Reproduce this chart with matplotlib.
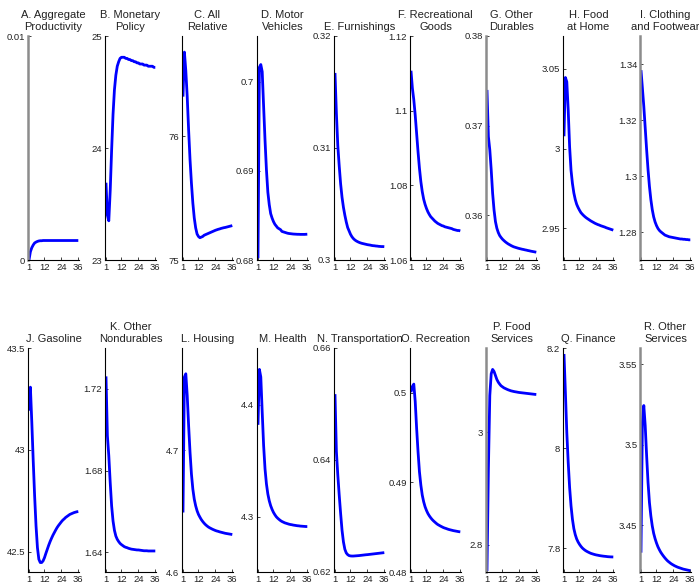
import numpy as np
import matplotlib
matplotlib.use("Agg")
import matplotlib.pyplot as plt
from matplotlib.ticker import FuncFormatter

plt.rcParams["font.family"] = ["Liberation Sans", "DejaVu Sans"]

months = np.arange(1, 37)

# --- series (levels) ---
prod = [0, 0.00037, 0.00055, 0.00067, 0.00076, 0.00080, 0.00083, 0.00085, 0.00086, 0.00086,
        0.00087, 0.00087, 0.00087, 0.00087, 0.00087, 0.00087, 0.00087, 0.00087, 0.00087, 0.00087,
        0.00087, 0.00087, 0.00087, 0.00087, 0.00087, 0.00087, 0.00087, 0.00087, 0.00087, 0.00087,
        0.00087, 0.00087, 0.00087, 0.00087, 0.00087, 0.00087]
monpol = [23.69, 23.40, 23.35, 23.62, 23.98, 24.30, 24.52, 24.65, 24.73, 24.77,
          24.80, 24.81, 24.81, 24.81, 24.80, 24.80, 24.79, 24.79, 24.78, 24.78,
          24.77, 24.77, 24.76, 24.76, 24.75, 24.75, 24.75, 24.74, 24.74, 24.74,
          24.73, 24.73, 24.73, 24.73, 24.72, 24.72]
allrel = [76.32, 76.68, 76.53, 76.32, 76.05, 75.81, 75.62, 75.46, 75.34, 75.26,
          75.21, 75.19, 75.18, 75.185, 75.19, 75.20, 75.205, 75.21, 75.215, 75.22,
          75.225, 75.23, 75.235, 75.24, 75.244, 75.248, 75.251, 75.255, 75.258, 75.261,
          75.263, 75.266, 75.269, 75.272, 75.275, 75.278]
motor = [0.6802, 0.7016, 0.7019, 0.7011, 0.6972, 0.6934, 0.6901, 0.6876, 0.6862, 0.6852,
         0.6847, 0.6843, 0.6840, 0.6838, 0.6836, 0.6835, 0.6834, 0.6832, 0.68315, 0.6831,
         0.68305, 0.6830, 0.68297, 0.68295, 0.68293, 0.68291, 0.6829, 0.68289, 0.68288, 0.68288,
         0.68287, 0.68287, 0.68287, 0.68287, 0.68288, 0.68289]
furnish = [0.3167, 0.3131, 0.3102, 0.3084, 0.3068, 0.3056, 0.3047, 0.3040, 0.3034, 0.3029,
           0.3026, 0.3023, 0.30208, 0.30192, 0.30180, 0.30171, 0.30164, 0.30158, 0.30153, 0.30149,
           0.30146, 0.30143, 0.30140, 0.30137, 0.30135, 0.30133, 0.30130, 0.30128, 0.30127, 0.30125,
           0.30124, 0.30122, 0.30121, 0.30120, 0.30120, 0.30119]
recgoods = [1.1107, 1.1060, 1.1029, 1.0988, 1.0939, 1.0890, 1.0846, 1.0810, 1.0783, 1.0763,
            1.0749, 1.0738, 1.0729, 1.0722, 1.0716, 1.0712, 1.0708, 1.0704, 1.0701, 1.0698,
            1.0696, 1.0694, 1.0692, 1.0691, 1.0689, 1.0688, 1.0687, 1.0686, 1.0685, 1.0684,
            1.0682, 1.0681, 1.0680, 1.0679, 1.0679, 1.0678]
othdur = [0.37398, 0.36877, 0.36729, 0.36506, 0.36245, 0.36059, 0.35929, 0.35855, 0.35807, 0.35773,
          0.35751, 0.35732, 0.35717, 0.35703, 0.35691, 0.35680, 0.35671, 0.35662, 0.35654, 0.35647,
          0.35642, 0.35637, 0.35632, 0.35628, 0.35624, 0.35620, 0.35617, 0.35613, 0.35610, 0.35606,
          0.35603, 0.35599, 0.35596, 0.35593, 0.35590, 0.35587]
foodhome = [3.0077, 3.0445, 3.0418, 3.0240, 3.0010, 2.9864, 2.9781, 2.9722, 2.9681, 2.9651,
            2.9631, 2.9614, 2.9599, 2.9589, 2.9580, 2.9572, 2.9565, 2.9559, 2.9553, 2.9547,
            2.9542, 2.9537, 2.9532, 2.9528, 2.9524, 2.9521, 2.9517, 2.9514, 2.9511, 2.9508,
            2.9504, 2.9501, 2.9498, 2.9495, 2.9492, 2.9489]
cloth = [1.3379, 1.3315, 1.3250, 1.3173, 1.3095, 1.3024, 1.2964, 1.2917, 1.2881, 1.2855,
         1.2837, 1.2824, 1.2814, 1.2807, 1.2802, 1.2798, 1.2794, 1.2790, 1.2788, 1.2786,
         1.2784, 1.2783, 1.2782, 1.2781, 1.2780, 1.2779, 1.2778, 1.2777, 1.2776, 1.2776,
         1.2775, 1.2775, 1.2774, 1.2774, 1.2773, 1.2773]
gasoline = [43.193, 43.308, 43.136, 42.948, 42.775, 42.628, 42.521, 42.464, 42.448, 42.448,
            42.456, 42.472, 42.493, 42.513, 42.533, 42.551, 42.567, 42.582, 42.595, 42.608,
            42.620, 42.630, 42.639, 42.648, 42.656, 42.662, 42.669, 42.674, 42.679, 42.684,
            42.687, 42.690, 42.693, 42.695, 42.697, 42.698]
othnondur = [1.7261, 1.6970, 1.6872, 1.6741, 1.6627, 1.6553, 1.6507, 1.6479, 1.6463, 1.6452,
             1.6443, 1.6437, 1.6432, 1.6427, 1.6424, 1.6422, 1.6419, 1.6417, 1.6415, 1.6414,
             1.6413, 1.6412, 1.6411, 1.6411, 1.6410, 1.6409, 1.6408, 1.6407, 1.6407, 1.6407,
             1.6406, 1.6406, 1.6406, 1.6406, 1.6406, 1.6406]
housing = [4.6489, 4.7602, 4.7629, 4.7451, 4.7203, 4.6984, 4.6805, 4.6681, 4.6599, 4.6544,
           4.6503, 4.6473, 4.6451, 4.6431, 4.6415, 4.6401, 4.6389, 4.6379, 4.6370, 4.6363,
           4.6357, 4.6351, 4.6346, 4.6341, 4.6337, 4.6334, 4.6330, 4.6327, 4.6324, 4.6321,
           4.6318, 4.6316, 4.6314, 4.6312, 4.6310, 4.6308]
health = [4.3821, 4.4316, 4.4248, 4.3934, 4.3636, 4.3427, 4.3293, 4.3203, 4.3143, 4.3099,
          4.3066, 4.3039, 4.3018, 4.3000, 4.2987, 4.2976, 4.2966, 4.2958, 4.2952, 4.2946,
          4.2942, 4.2938, 4.2934, 4.2931, 4.2929, 4.2926, 4.2924, 4.2922, 4.2920, 4.2919,
          4.2917, 4.2916, 4.2915, 4.2914, 4.2913, 4.2913]
transp = [0.65176, 0.6415, 0.63731, 0.63373, 0.63045, 0.62746, 0.62537, 0.62406, 0.6234, 0.6231,
          0.62293, 0.62287, 0.62285, 0.62285, 0.62287, 0.62289, 0.62291, 0.62293, 0.62296, 0.62299,
          0.62302, 0.62305, 0.62308, 0.6231, 0.62313, 0.62316, 0.62319, 0.62322, 0.62325, 0.62328,
          0.62331, 0.62334, 0.62337, 0.6234, 0.62343, 0.62346]
recreation = [0.50007, 0.50071, 0.50097, 0.49903, 0.49604, 0.49343, 0.49119, 0.4897, 0.48858, 0.48784,
              0.48728, 0.48687, 0.48653, 0.48627, 0.48605, 0.48586, 0.4857, 0.48556, 0.48542, 0.4853,
              0.48521, 0.48512, 0.48504, 0.48496, 0.4849, 0.48485, 0.48479, 0.48474, 0.4847, 0.48466,
              0.48462, 0.48459, 0.48456, 0.48453, 0.4845, 0.48448]
foodserv = [2.7537, 2.9347, 3.0653, 3.1039, 3.1116, 3.1080, 3.1009, 3.0938, 3.0890, 3.0855,
            3.0825, 3.0807, 3.0789, 3.0777, 3.0765, 3.0754, 3.0745, 3.0736, 3.0730, 3.0724,
            3.0719, 3.0715, 3.0710, 3.0706, 3.0703, 3.0700, 3.0697, 3.0694, 3.0691, 3.0688,
            3.0685, 3.0682, 3.0679, 3.0676, 3.0673, 3.0671]
finance = [8.188, 8.1113, 8.0313, 7.9713, 7.9213, 7.8847, 7.858, 7.8393, 7.8273, 7.8187,
           7.8127, 7.808, 7.804, 7.8007, 7.7982, 7.796, 7.7942, 7.7927, 7.7913, 7.79,
           7.7891, 7.7882, 7.7874, 7.7867, 7.7862, 7.7856, 7.7851, 7.7847, 7.7843, 7.784,
           7.7837, 7.7833, 7.7831, 7.7829, 7.7828, 7.7827]
othserv = [3.433, 3.5139, 3.5243, 3.5118, 3.4932, 3.4766, 3.4641, 3.4558, 3.4496, 3.445,
           3.4417, 3.439, 3.4367, 3.4349, 3.4333, 3.432, 3.4308, 3.4297, 3.4287, 3.4278,
           3.4271, 3.4264, 3.4258, 3.4253, 3.4248, 3.4244, 3.424, 3.4237, 3.4234, 3.4231,
           3.4228, 3.4226, 3.4224, 3.4222, 3.422, 3.4218]

titles = ["A. Aggregate\nProductivity", "B. Monetary\nPolicy", "C. All\nRelative",
          "D. Motor\nVehicles", "E. Furnishings", "F. Recreational\nGoods",
          "G. Other\nDurables", "H. Food\nat Home", "I. Clothing\nand Footwear",
          "J. Gasoline", "K. Other\nNondurables", "L. Housing",
          "M. Health", "N. Transportation", "O. Recreation",
          "P. Food\nServices", "Q. Finance", "R. Other\nServices"]
series = [prod, monpol, allrel, motor, furnish, recgoods, othdur, foodhome, cloth,
          gasoline, othnondur, housing, health, transp, recreation, foodserv, finance, othserv]
yticks = [[0, 0.01], [23, 24, 25], [75, 76], [0.68, 0.69, 0.7], [0.3, 0.31, 0.32],
          [1.06, 1.08, 1.1, 1.12], [0.36, 0.37, 0.38], [2.95, 3, 3.05], [1.28, 1.3, 1.32, 1.34],
          [42.5, 43, 43.5], [1.64, 1.68, 1.72], [4.6, 4.7], [4.3, 4.4], [0.62, 0.64, 0.66],
          [0.48, 0.49, 0.5], [2.8, 3], [7.8, 8, 8.2], [3.45, 3.5, 3.55]]
ylims = [(0, 0.01), (23, 25), (75, 76.81), (0.68, 0.7051), (0.3, 0.32), (1.06, 1.12),
         (0.355, 0.38), (2.9302, 3.0705), (1.2701, 1.3501), (42.4016, 43.5), (1.6303, 1.74),
         (4.6, 4.7841), (4.2507, 4.4507), (0.62, 0.66), (0.48, 0.505), (2.752, 3.1496),
         (7.7527, 8.2), (3.421, 3.56)]
gray_axis = {0, 6, 8, 15, 17}

W, H = 699, 587
fig = plt.figure(figsize=(W / 100, H / 100), dpi=100)

lefts = [28, 105, 182, 257, 334, 410, 486, 563, 640]
row_top = [36, 348]
ax_h = 224
ax_w = 51

for i, (ttl, y, yt, yl) in enumerate(zip(titles, series, yticks, ylims)):
    r, c = divmod(i, 9)
    ax = fig.add_axes([lefts[c] / W, 1 - (row_top[r] + ax_h) / H, ax_w / W, ax_h / H])
    ax.plot(months, y, color="#0000ff", lw=2.0, solid_capstyle="butt")
    ax.set_xlim(0.3, 36.5)
    ax.set_ylim(*yl)
    ax.set_xticks([1, 12, 24, 36])
    ax.set_yticks(yt)
    ax.yaxis.set_major_formatter(FuncFormatter(lambda v, p: "%g" % round(v, 6)))
    ax.tick_params(direction="in", length=2.5, width=0.6, labelsize=6.8, pad=2,
                   colors="#222222")
    for s in ["top", "right"]:
        ax.spines[s].set_visible(False)
    ax.spines["bottom"].set_linewidth(0.8)
    if i in gray_axis:
        ax.spines["left"].set_color("#8c8c8c")
        ax.spines["left"].set_linewidth(1.8)
    else:
        ax.spines["left"].set_linewidth(0.8)
    ax.patch.set_alpha(0)
    ax.set_title(ttl, fontsize=8, pad=4, linespacing=1.3, color="#222222")

fig.savefig("out.png", dpi=100)
